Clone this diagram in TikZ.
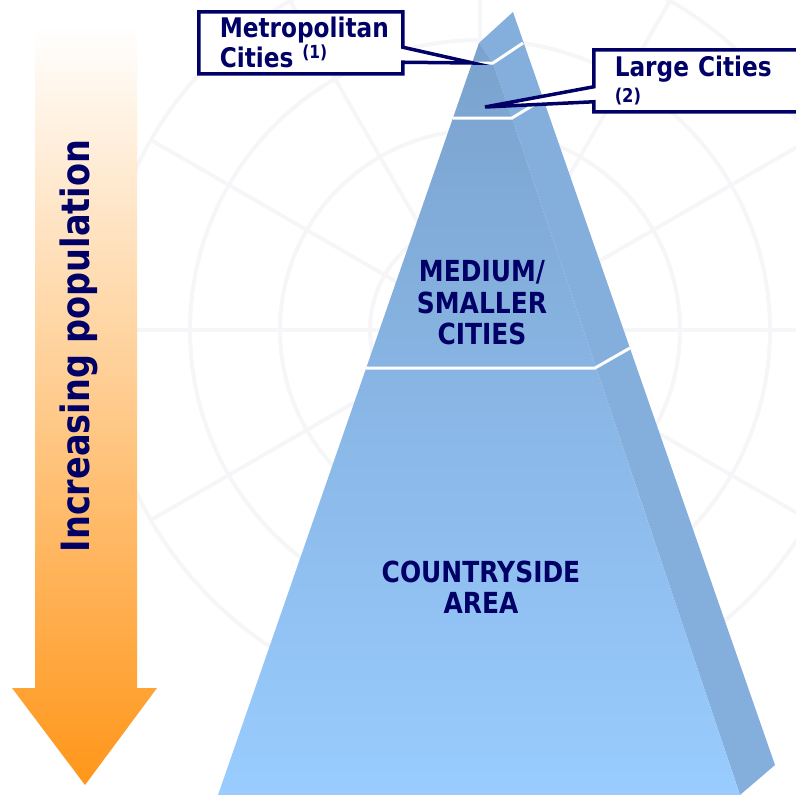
\documentclass[tikz,border=0pt]{standalone}
\usepackage{fontspec}
\setmainfont{DejaVu Sans}[FakeStretch=0.86]
\usetikzlibrary{calc}
\usetikzlibrary{shapes.callouts}
\definecolor{un_navy}{HTML}{000066}
\definecolor{pyr_top}{RGB}{122,162,205}
\definecolor{pyr_bottom}{RGB}{153,204,255}
\definecolor{pyr_side}{RGB}{132,175,220}
\definecolor{arrow_orange}{RGB}{255,150,25}
\definecolor{wm_grey}{RGB}{246,246,248}

\begin{document}
\begin{tikzpicture}[
	    x=1pt, y=-1pt,
	    onlytext/.style={align=center, text=un_navy, font=\bfseries\fontsize{29}{31.5}\selectfont},
	    calloutbox/.style={rectangle callout, draw=un_navy, line width=3.5pt, fill=white, text=un_navy, align=left, anchor=north west, inner xsep=21pt, inner ysep=4pt, minimum height=62pt, callout pointer width=15pt, font=\bfseries\fontsize{27}{30}\selectfont},
	    sepline/.style={white, line width=3pt},
	    wmline/.style={wm_grey, line width=4pt},
	]
	\useasboundingbox (0,0) rectangle (796,795);

	% Watermark
	\foreach \r in {110,200,290,380} {
	    \draw [wmline] (480,330) circle (\r);
	}
	\foreach \a in {0,30,...,330} {
	    \draw [wmline] (480,330) -- ++(\a:380);
	}

	% Population arrow
	\shade [top color=white, bottom color=arrow_orange] (35,25) -- (137,25) -- (137,688) -- (157,688) -- (85,785) -- (12,688) -- (35,688) -- cycle;
	\node [rotate=90, text=un_navy, font=\bfseries\fontsize{39}{39}\selectfont] (poplabel) at (79,346) {Increasing population};

	% Pyramid
	\coordinate (apex) at (479,43);
	\coordinate (apexback) at (513,12);
	\coordinate (kinka) at (493,63);
	\coordinate (kinkb) at (512,118);
	\coordinate (baseleft) at (218,795);
	\coordinate (baseright) at (740,795);
	\coordinate (baseback) at (775,765);

	\fill [pyr_side] (apex) -- (apexback) -- (baseback) -- (baseright) -- (kinkb) -- (kinka) -- cycle;
	\shade [top color=pyr_top, bottom color=pyr_bottom] (apex) -- (kinka) -- (kinkb) -- (baseright) -- (baseleft) -- cycle;

	\draw [sepline] (473,63) -- (kinka) -- (523,43);
	\draw [sepline] (453,118) -- (kinkb) -- (545,98);
	\draw [sepline] (366,368) -- (595,368) -- (630,348);

	\node [onlytext] (mediumlabel) at (482,303) {MEDIUM/\\SMALLER\\CITIES};
	\node [onlytext] (countrylabel) at (481,587) {COUNTRYSIDE\\AREA};

	% Callouts
	\coordinate (metrotip) at (473,63);
	\coordinate (largetip) at (485,107);
	\node [calloutbox, text width=162pt, callout absolute pointer={(metrotip)}] (metrobox) at (197,10) {Metropolitan\\Cities \raisebox{9pt}{\fontsize{18}{18}\selectfont(1)}};
	\node [calloutbox, text width=190pt, callout absolute pointer={(largetip)}] (largebox) at (592,48) {Large Cities\\[-4pt]{\fontsize{19}{19}\selectfont(2)}};

\end{tikzpicture}
\end{document}
